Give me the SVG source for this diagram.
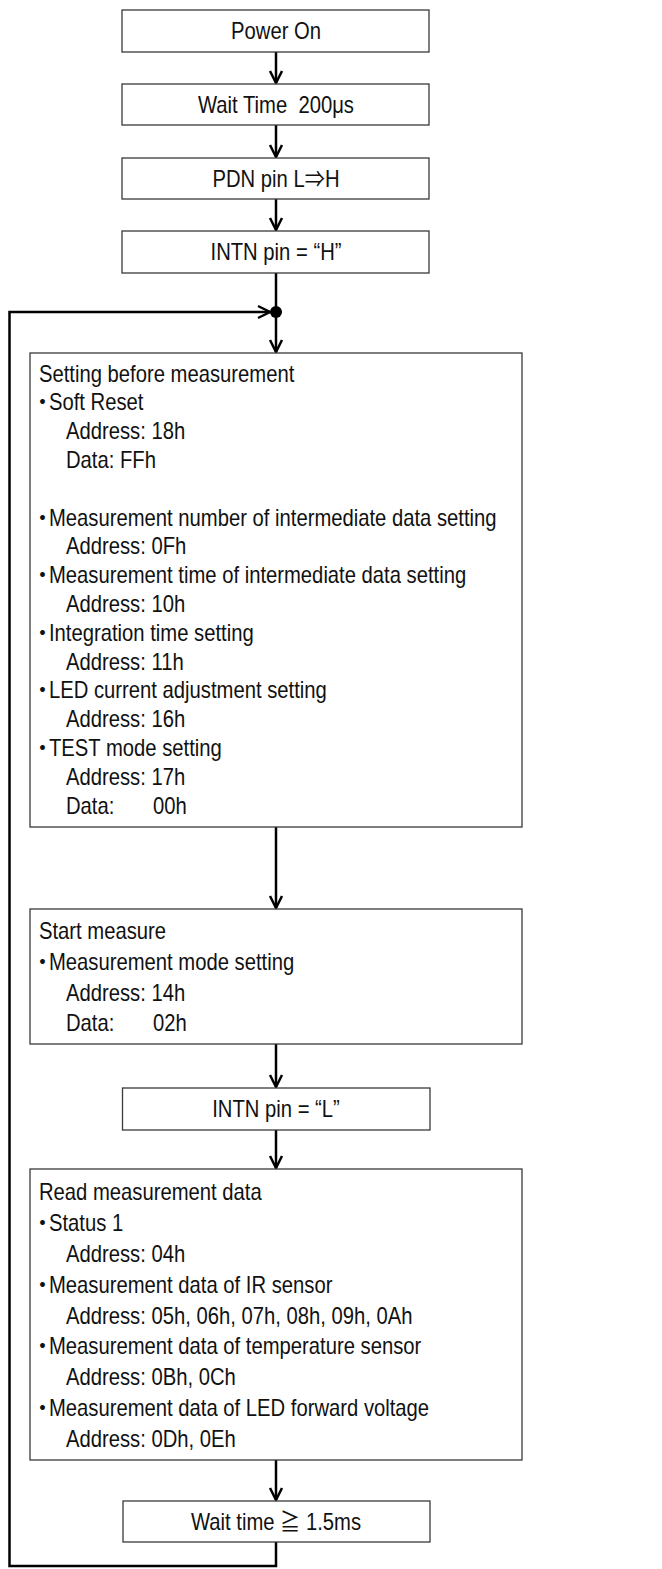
<svg xmlns="http://www.w3.org/2000/svg" width="662" height="1569" viewBox="0 0 662 1569">
<style>
  .box { fill: #fff; stroke: #3a3a3a; stroke-width: 1.3; }
  .t { font-family: "Liberation Sans", Arial, "Noto Sans CJK JP", sans-serif; font-size: 23px; fill: #111; white-space: pre; }
  .c { text-anchor: middle; }
  .b { font-family: "Noto Sans CJK JP", sans-serif; font-size: 23px; fill: #111; text-anchor: middle; }
  .conn { fill: none; stroke: #000; stroke-width: 2.5; }
</style>
<defs>
  <marker id="ah" markerUnits="userSpaceOnUse" viewBox="-8 -14 16 16" refX="0" refY="0" markerWidth="16" markerHeight="16" orient="auto-start-reverse" overflow="visible">
    <path d="M-6,-12 L0,0 L6,-12" fill="none" stroke="#000" stroke-width="2.5" transform="rotate(-90)"/>
  </marker>
</defs>

<g id="connectors">
  <line class="conn" x1="276" y1="52" x2="276" y2="83" marker-end="url(#ah)"/>
  <line class="conn" x1="276" y1="125" x2="276" y2="157" marker-end="url(#ah)"/>
  <line class="conn" x1="276" y1="199" x2="276" y2="230" marker-end="url(#ah)"/>
  <line class="conn" x1="276" y1="273" x2="276" y2="352" marker-end="url(#ah)"/>
  <line class="conn" x1="276" y1="827" x2="276" y2="908" marker-end="url(#ah)"/>
  <line class="conn" x1="276" y1="1044" x2="276" y2="1087" marker-end="url(#ah)"/>
  <line class="conn" x1="276" y1="1130" x2="276" y2="1168" marker-end="url(#ah)"/>
  <line class="conn" x1="276" y1="1460" x2="276" y2="1500" marker-end="url(#ah)"/>
  <path class="conn" d="M276,1542 L276,1566 L9.5,1566 L9.5,312 L270,312" stroke-width="3" marker-end="url(#ah)"/>
  <circle cx="276" cy="312" r="6" fill="#000"/>
</g>

<g id="power-on">
  <rect class="box" x="122" y="10" width="307" height="42"/>
  <text class="t c" transform="matrix(0.88 0 0 1 276 39)">Power On</text>
</g>
<g id="wait-200us">
  <rect class="box" x="122" y="84" width="307" height="41"/>
  <text class="t c" transform="matrix(0.88 0 0 1 276 112.5)">Wait Time  200μs</text>
</g>
<g id="pdn">
  <rect class="box" x="122" y="158" width="307" height="41"/>
  <text class="t c" transform="matrix(0.88 0 0 1 276 186.5)">PDN pin L⇒H</text>
</g>
<g id="intn-h">
  <rect class="box" x="122" y="231" width="307" height="42"/>
  <text class="t c" transform="matrix(0.88 0 0 1 276 260)">INTN pin = “H”</text>
</g>

<g id="setting">
  <rect class="box" x="30" y="353" width="492" height="474"/>
  <text class="t" transform="matrix(0.88 0 0 1 39 381.5)">Setting before measurement</text>
  <text class="b" x="42.5" y="410.3">・</text>
  <text class="t" transform="matrix(0.88 0 0 1 49 410.3)">Soft Reset</text>
  <text class="t" transform="matrix(0.88 0 0 1 66 439.1)">Address: 18h</text>
  <text class="t" transform="matrix(0.88 0 0 1 66 467.9)">Data: FFh</text>
  <text class="b" x="42.5" y="525.5">・</text>
  <text class="t" transform="matrix(0.88 0 0 1 49 525.5)">Measurement number of intermediate data setting</text>
  <text class="t" transform="matrix(0.88 0 0 1 66 554.3)">Address: 0Fh</text>
  <text class="b" x="42.5" y="583.1">・</text>
  <text class="t" transform="matrix(0.88 0 0 1 49 583.1)">Measurement time of intermediate data setting</text>
  <text class="t" transform="matrix(0.88 0 0 1 66 611.9)">Address: 10h</text>
  <text class="b" x="42.5" y="640.7">・</text>
  <text class="t" transform="matrix(0.88 0 0 1 49 640.7)">Integration time setting</text>
  <text class="t" transform="matrix(0.88 0 0 1 66 669.5)">Address: 11h</text>
  <text class="b" x="42.5" y="698.3">・</text>
  <text class="t" transform="matrix(0.88 0 0 1 49 698.3)">LED current adjustment setting</text>
  <text class="t" transform="matrix(0.88 0 0 1 66 727.1)">Address: 16h</text>
  <text class="b" x="42.5" y="755.9">・</text>
  <text class="t" transform="matrix(0.88 0 0 1 49 755.9)">TEST mode setting</text>
  <text class="t" transform="matrix(0.88 0 0 1 66 784.7)">Address: 17h</text>
  <text class="t" transform="matrix(0.88 0 0 1 66 813.5)">Data:</text>
  <text class="t" transform="matrix(0.88 0 0 1 153 813.5)">00h</text>
</g>

<g id="start-measure">
  <rect class="box" x="30" y="909" width="492" height="135"/>
  <text class="t" transform="matrix(0.88 0 0 1 39 939)">Start measure</text>
  <text class="b" x="42.5" y="970">・</text>
  <text class="t" transform="matrix(0.88 0 0 1 49 970)">Measurement mode setting</text>
  <text class="t" transform="matrix(0.88 0 0 1 66 1001)">Address: 14h</text>
  <text class="t" transform="matrix(0.88 0 0 1 66 1031)">Data:</text>
  <text class="t" transform="matrix(0.88 0 0 1 153 1031)">02h</text>
</g>

<g id="intn-l">
  <rect class="box" x="122.5" y="1088" width="307.5" height="42"/>
  <text class="t c" transform="matrix(0.88 0 0 1 276 1117)">INTN pin = “L”</text>
</g>

<g id="read-data">
  <rect class="box" x="30" y="1169" width="492" height="291"/>
  <text class="t" transform="matrix(0.88 0 0 1 39 1199.7)">Read measurement data</text>
  <text class="b" x="42.5" y="1230.6">・</text>
  <text class="t" transform="matrix(0.88 0 0 1 49 1230.6)">Status 1</text>
  <text class="t" transform="matrix(0.88 0 0 1 66 1261.6)">Address: 04h</text>
  <text class="b" x="42.5" y="1292.5">・</text>
  <text class="t" transform="matrix(0.88 0 0 1 49 1292.5)">Measurement data of IR sensor</text>
  <text class="t" transform="matrix(0.88 0 0 1 66 1323.5)">Address: 05h, 06h, 07h, 08h, 09h, 0Ah</text>
  <text class="b" x="42.5" y="1354.4">・</text>
  <text class="t" transform="matrix(0.88 0 0 1 49 1354.4)">Measurement data of temperature sensor</text>
  <text class="t" transform="matrix(0.88 0 0 1 66 1385.4)">Address: 0Bh, 0Ch</text>
  <text class="b" x="42.5" y="1416.3">・</text>
  <text class="t" transform="matrix(0.88 0 0 1 49 1416.3)">Measurement data of LED forward voltage</text>
  <text class="t" transform="matrix(0.88 0 0 1 66 1447.3)">Address: 0Dh, 0Eh</text>
</g>

<g id="wait-1-5ms">
  <rect class="box" x="123" y="1501" width="307" height="41"/>
  <text class="t c" transform="matrix(0.88 0 0 1 276 1529.5)">Wait time ≧ 1.5ms</text>
</g>
</svg>
